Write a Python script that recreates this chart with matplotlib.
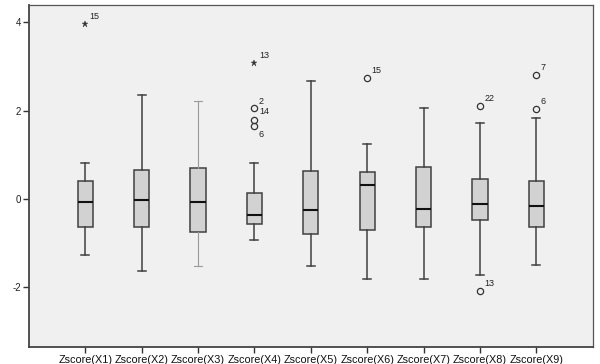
import matplotlib
matplotlib.use("Agg")
import matplotlib.pyplot as plt

# Standardized variables and their box-plot summaries
labels = ["Zscore(X1)", "Zscore(X2)", "Zscore(X3)", "Zscore(X4)", "Zscore(X5)",
          "Zscore(X6)", "Zscore(X7)", "Zscore(X8)", "Zscore(X9)"]
whislo = [-1.27, -1.63, -1.52, -0.93, -1.53, -1.83, -1.81, -1.74, -1.51]
q1 = [-0.64, -0.65, -0.76, -0.57, -0.80, -0.72, -0.64, -0.48, -0.64]
med = [-0.07, -0.02, -0.08, -0.36, -0.26, 0.31, -0.23, -0.12, -0.16]
q3 = [0.41, 0.66, 0.70, 0.14, 0.63, 0.60, 0.73, 0.45, 0.41]
whishi = [0.82, 2.35, 2.21, 0.80, 2.68, 1.24, 2.05, 1.71, 1.84]

# Mild outliers (circles) and extreme outliers (stars): (box index, value, case label)
mild = [(4, 2.06, "2"), (4, 1.79, "14"), (4, 1.64, "6"),
        (6, 2.73, "15"), (8, 2.10, "22"), (8, -2.10, "13"),
        (9, 2.80, "7"), (9, 2.03, "6")]
extreme = [(1, 3.97, "15"), (4, 3.07, "13")]

plt.rcParams["font.family"] = ["Liberation Sans", "DejaVu Sans"]

fig = plt.figure(figsize=(6.0, 3.64), dpi=100)
ax = fig.add_axes([0.048, 0.047, 0.94, 0.939])
ax.set_facecolor("#f0f0f0")

stats = []
for i in range(len(labels)):
    stats.append(dict(whislo=whislo[i], q1=q1[i], med=med[i], q3=q3[i],
                      whishi=whishi[i], fliers=[], label=labels[i]))

positions = list(range(1, len(labels) + 1))
bp = ax.bxp(stats, positions=positions, widths=0.27, patch_artist=True,
            showfliers=False,
            boxprops=dict(facecolor="#d2d2d2", edgecolor="#404040", linewidth=1.1),
            medianprops=dict(color="#111111", linewidth=1.5),
            whiskerprops=dict(color="#404040", linewidth=1.1),
            capprops=dict(color="#404040", linewidth=1.1),
            capwidths=0.14)

# the third variable's whiskers are drawn lighter
for art in bp["whiskers"][4:6] + bp["caps"][4:6]:
    art.set_color("#9a9a9a")
    art.set_linewidth(0.8)

for pos, val, lab in mild:
    ax.plot(pos, val, marker="o", markersize=4.5, markerfacecolor="none",
            markeredgecolor="#333333", markeredgewidth=0.9, linestyle="none")
for pos, val, lab in extreme:
    ax.plot(pos, val, marker="*", markersize=4.5, color="#333333",
            markeredgewidth=0.3, linestyle="none")

# case-number annotations
label_offsets = {(4, "2"): (0.08, 0.14), (4, "14"): (0.08, 0.18),
                 (4, "6"): (0.08, -0.19)}
for pos, val, lab in mild + extreme:
    dx, dy = label_offsets.get((pos, lab), (0.08, 0.17))
    ax.text(pos + dx, val + dy, lab, fontsize=6.5, color="#222222",
            ha="left", va="center")

ax.set_xlim(0, 10)
ax.set_ylim(-3.36, 4.39)
ax.set_xticks(positions)
ax.set_xticklabels(labels)
ax.set_yticks([4, 2, 0, -2])
ax.set_yticklabels(["4", "2", "0", "-2"])
ax.tick_params(axis="x", labelsize=7.8, length=4, width=1, color="#333333",
               labelcolor="#111111", pad=1.5)
ax.tick_params(axis="y", labelsize=7, length=4, width=1, color="#333333",
               labelcolor="#222222", pad=1.5)
for side in ["left", "bottom"]:
    ax.spines[side].set_color("#444444")
    ax.spines[side].set_linewidth(1.3)
for side in ["top", "right"]:
    ax.spines[side].set_color("#555555")
    ax.spines[side].set_linewidth(0.9)

fig.savefig("out.png", dpi=100, facecolor="white")
